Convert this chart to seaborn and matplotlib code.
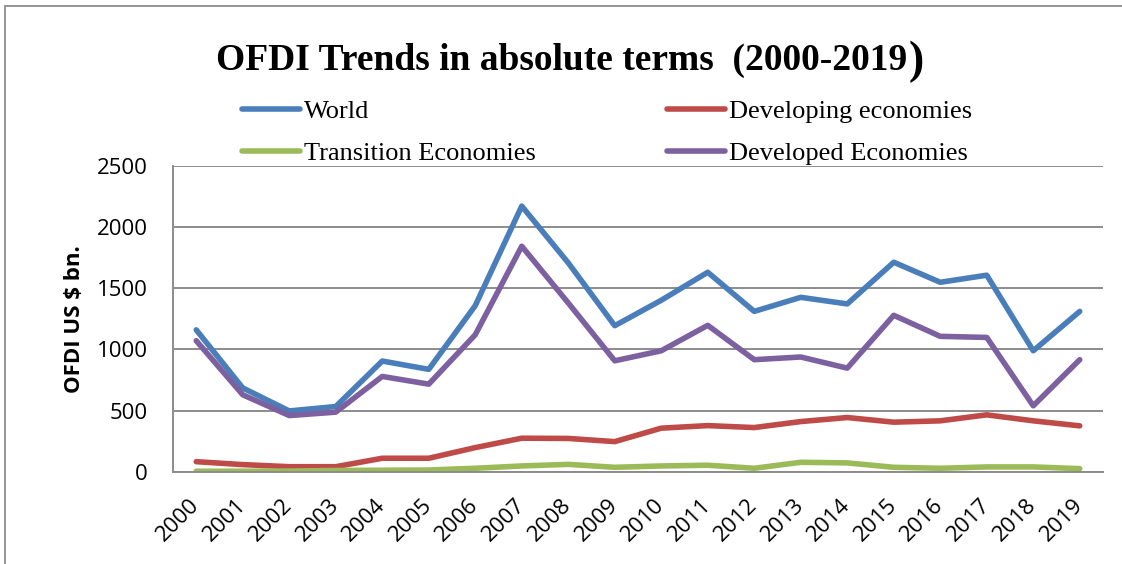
import matplotlib
matplotlib.use("Agg")
import matplotlib.pyplot as plt
from matplotlib.patches import Rectangle
import numpy as np
import pandas as pd
import seaborn as sns

# Outward FDI flows, US$ billion
years = list(range(2000, 2020))
world = [1160, 685, 497, 533, 905, 837, 1358, 2172, 1708, 1194,
         1402, 1631, 1311, 1426, 1372, 1713, 1549, 1607, 989, 1311]
developing = [82, 58, 41, 41, 110, 110, 197, 274, 272, 246,
              356, 377, 361, 410, 443, 405, 416, 465, 416, 375]
transition = [4, 4, 5, 10, 12, 14, 28, 47, 60, 36,
              47, 53, 28, 77, 72, 36, 28, 39, 39, 25]
developed = [1071, 629, 459, 487, 779, 716, 1120, 1844, 1380, 907,
             989, 1197, 916, 938, 847, 1279, 1107, 1098, 539, 916]

series_names = ["World", "Developing economies", "Transition Economies", "Developed Economies"]
series_values = [world, developing, transition, developed]
series_colors = ["#4A7EBB", "#BE4B48", "#9BBB59", "#7D60A0"]
y_ticks = [0, 500, 1000, 1500, 2000, 2500]

df = pd.DataFrame({
    "Year": np.tile(years, len(series_names)),
    "Value": np.concatenate(series_values),
    "Series": np.repeat(series_names, len(years)),
})

sns.set_theme(style="white")
plt.rcParams["font.family"] = ["Open Sans", "DejaVu Sans"]
plt.rcParams["text.color"] = "black"
plt.rcParams["axes.labelcolor"] = "black"
plt.rcParams["xtick.color"] = "black"
plt.rcParams["ytick.color"] = "black"

W, H = 1122, 564
fig = plt.figure(figsize=(W / 100, H / 100), dpi=100)
ax = fig.add_axes([173 / W, 1 - 471.7 / H, (1103 - 173) / W, (471.7 - 166) / H])

sns.lineplot(data=df, x="Year", y="Value", hue="Series", hue_order=series_names,
             palette=series_colors, linewidth=4.0, ax=ax, legend=False,
             solid_capstyle="round", solid_joinstyle="round")

grid_color = "#8c8c8c"
ax.set_xlim(1999.5, 2019.5)
ax.set_ylim(0, 2500)
ax.set_yticks(y_ticks)
ax.set_yticklabels([str(v) for v in y_ticks], fontsize=16)
ax.set_xticks(years)
ax.set_xticklabels([str(y) for y in years], fontsize=16, rotation=45,
                   ha="right", va="center", rotation_mode="anchor")
ax.tick_params(axis="x", pad=22, length=0)
ax.tick_params(axis="y", pad=18, length=0)
ax.grid(axis="y", color=grid_color, linewidth=1.4)
ax.set_axisbelow(True)
for side in ["top", "right"]:
    ax.spines[side].set_visible(False)
for side in ["left", "bottom"]:
    ax.spines[side].set_color(grid_color)
    ax.spines[side].set_linewidth(1.4)
ax.set_xlabel("")
ax.set_ylabel("OFDI US $ bn.", fontsize=16, fontweight="bold")
ax.yaxis.set_label_coords((85 - 173) / (1103 - 173), 0.5)

# Legend, two columns above the plot area, filled row by row
handles = [plt.Line2D([], [], color=c, linewidth=4.0, solid_capstyle="round")
           for c in series_colors]
order = [0, 2, 1, 3]
fig.legend([handles[i] for i in order], [series_names[i] for i in order],
           ncol=2, loc="upper left",
           bbox_to_anchor=(242 / W, 1 - 100 / H), frameon=False,
           prop={"family": "Liberation Serif", "size": 19},
           handlelength=2.2, handletextpad=0.15, columnspacing=4.95,
           labelspacing=0.7, borderpad=0, borderaxespad=0)

# Title with an oversized closing parenthesis
title = fig.text(216 / W, 1 - 70 / H, "OFDI Trends in absolute terms  (2000-2019",
                 fontsize=27, fontweight="bold", family="Liberation Serif",
                 ha="left", va="baseline")
fig.canvas.draw()
bb = title.get_window_extent()
fig.text(bb.x1 / W + 1 / W, 1 - 73 / H, ")", fontsize=33, family="Liberation Serif",
         fontweight="bold", ha="left", va="baseline")

# Outer chart frame
fig.patches.append(Rectangle((4.5 / W, -0.2), 1.5, 1 - 6.5 / H + 0.2,
                             transform=fig.transFigure, fill=False,
                             edgecolor=grid_color, linewidth=1.3))

fig.savefig("out.png", dpi=100)
